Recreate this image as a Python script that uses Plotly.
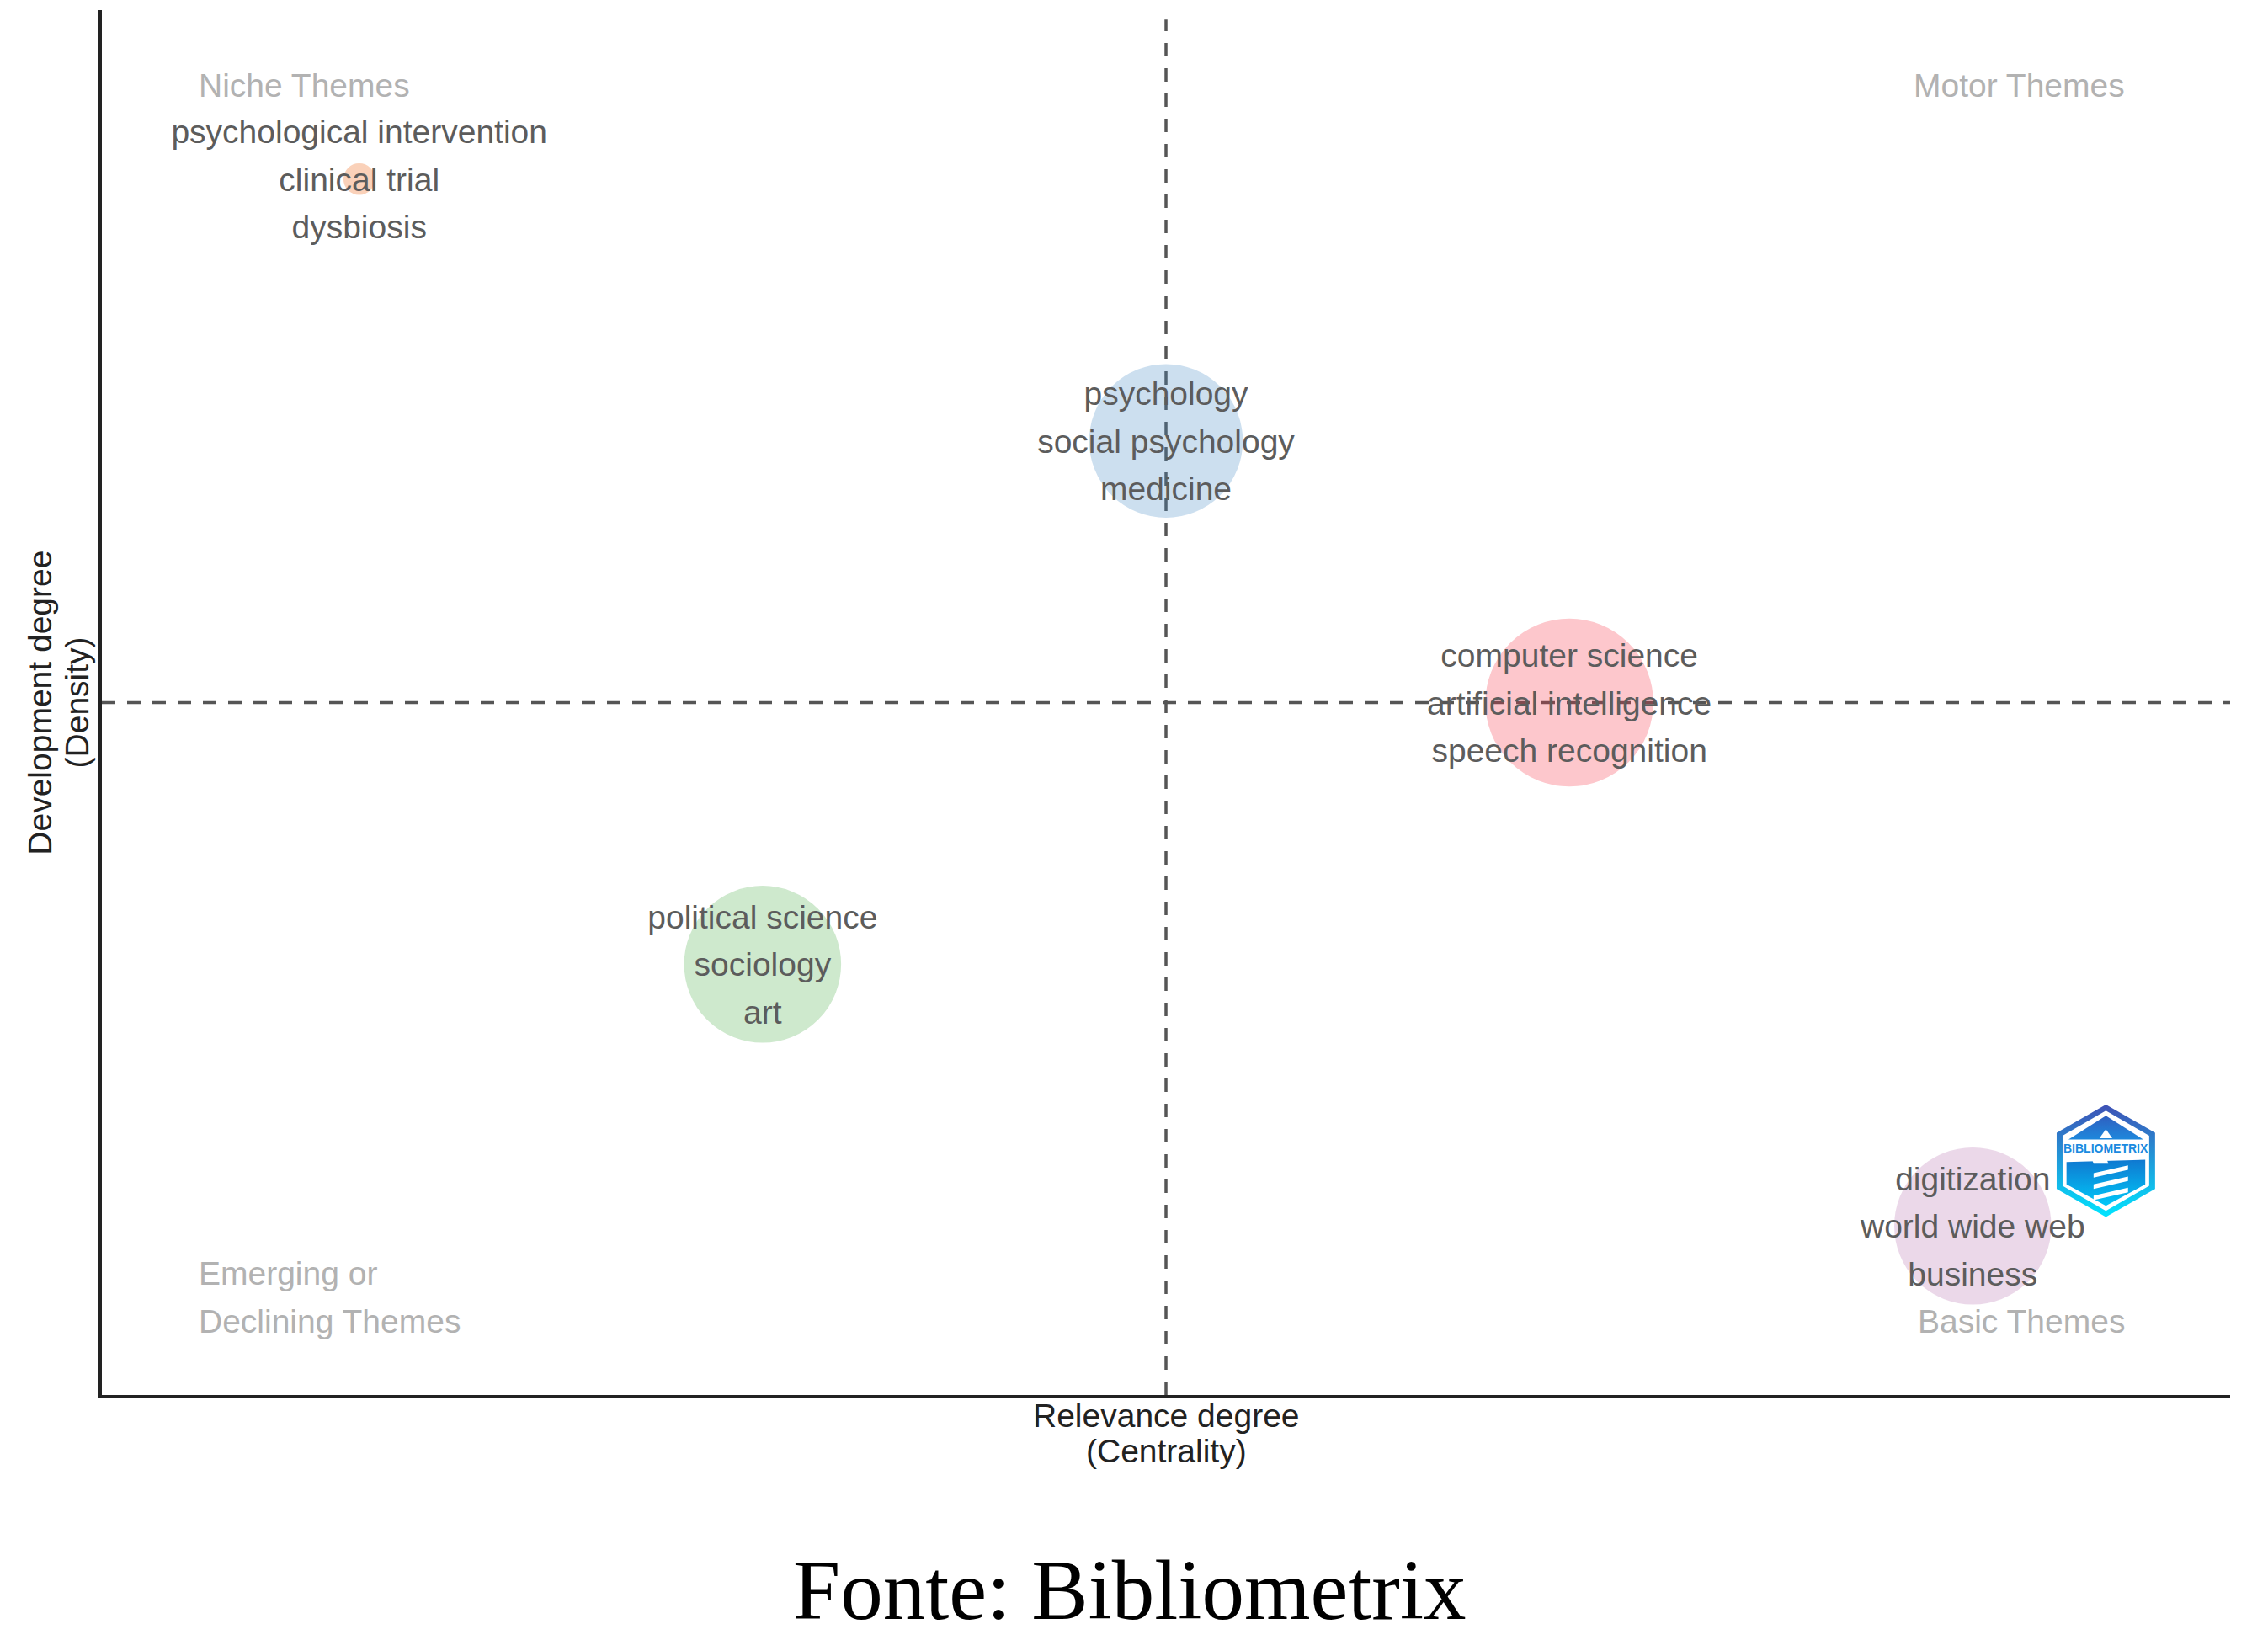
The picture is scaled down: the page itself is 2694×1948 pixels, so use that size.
import plotly.graph_objects as go

# thematic map, rank coordinates (one rank per cluster)
centrality = [1, 2, 3, 4, 5]
density = [5, 2, 4, 3, 1]
bubble_size = [36, 185, 181, 198, 185]
bubble_color = ["#F05A00", "#4DAF4A", "#468CC8", "#F83446", "#B973B2"]
cluster_terms = [
    ["psychological intervention", "clinical trial", "dysbiosis"],
    ["political science", "sociology", "art"],
    ["psychology", "social psychology", "medicine"],
    ["computer science", "artificial intelligence", "speech recognition"],
    ["digitization", "world wide web", "business"],
]
corner_labels = ["Niche Themes", "Motor Themes", "Emerging or", "Declining Themes", "Basic Themes"]
corner_x = [0.598, 5.382, 0.598, 0.598, 5.382]
corner_y = [5.359, 5.359, 0.818, 0.635, 0.635]
corner_anchor = ["left", "right", "left", "left", "right"]

x_range = [0.362, 5.638]
y_range = [0.354, 5.646]
median_rank = 3
line_step = 0.182
label_shift = -0.014

logo_x, logo_y = 5.33, 1.249
logo_w, logo_h = 0.122, 0.215

fig = go.Figure()

# quadrant lines
fig.add_trace(go.Scatter(x=[median_rank, median_rank], y=[y_range[0], 5.61], mode="lines",
                         line=dict(color="#555555", width=3.5, dash="16px,14px")))
fig.add_trace(go.Scatter(x=x_range, y=[median_rank, median_rank], mode="lines",
                         line=dict(color="#555555", width=3.5, dash="16px,14px")))

fig.add_trace(go.Scatter(x=centrality, y=density, mode="markers",
                         marker=dict(size=bubble_size, color=bubble_color, opacity=0.27,
                                     line=dict(width=1.5, color=bubble_color))))

# three terms per cluster, stacked around the bubble centre
for cx, cy, terms in zip(centrality, density, cluster_terms):
    ys = [cy + line_step + label_shift, cy + label_shift, cy - line_step + label_shift]
    fig.add_trace(go.Scatter(x=[cx] * 3, y=ys, mode="text",
                             text=terms, textposition="middle center",
                             textfont=dict(family="Liberation Sans", size=39, color="#5c5c5c")))


def logo_poly(points, fill=None, gradient=None):
    xs = [logo_x + p[0] * logo_w for p in points]
    ys = [logo_y + p[1] * logo_h for p in points]
    tr = go.Scatter(x=xs + xs[:1], y=ys + ys[:1], mode="lines", line=dict(width=0), fill="toself")
    if gradient:
        tr.fillgradient = dict(type="vertical", colorscale=[[0, gradient[0]], [1, gradient[1]]])
    else:
        tr.fillcolor = fill
    fig.add_trace(tr)


# Bibliometrix badge
hexagon = [(0, 1), (1, 0.5), (1, -0.5), (0, -1), (-1, -0.5), (-1, 0.5)]
logo_poly(hexagon, gradient=("#00E5FF", "#3F51B5"))
logo_poly([(p[0] * 0.88, p[1] * 0.89) for p in hexagon], fill="#FFFFFF")
logo_poly([(-0.76, 0.38), (0, 0.8), (0.76, 0.38)], gradient=("#1E88DC", "#2F5FC0"))
logo_poly([(-0.8, -0.02), (0.8, 0.02), (0.8, -0.42), (0, -0.8), (-0.8, -0.42)],
          gradient=("#00C8F8", "#1078D0"))
logo_poly([(-0.13, 0.4), (0, 0.56), (0.13, 0.4)], fill="#FFFFFF")
logo_poly([(-0.3, 0.08), (-0.15, 0.14), (0, 0.08), (0.05, -0.05), (-0.25, -0.05)], fill="#FFFFFF")
for top in [-0.08, -0.28, -0.48]:
    logo_poly([(-0.25, top - 0.14), (0.45, top), (0.45, top - 0.08), (-0.25, top - 0.22)], fill="#FFFFFF")

fig.add_annotation(x=logo_x, y=logo_y + 0.22 * logo_h, text="<b>BIBLIOMETRIX</b>", showarrow=False,
                   font=dict(family="Liberation Sans", size=14, color="#1A8AE0"))

for label, lx, ly, anchor in zip(corner_labels, corner_x, corner_y, corner_anchor):
    fig.add_annotation(x=lx, y=ly, text=label, xanchor=anchor, showarrow=False,
                       font=dict(family="Liberation Sans", size=39, color="#b2b2b2"))

axis_font = dict(family="Liberation Sans", size=39, color="#222222")
fig.add_annotation(xref="paper", yref="paper", x=0.5, y=-0.0146, text="Relevance degree",
                   xanchor="center", yanchor="middle", showarrow=False, font=axis_font)
fig.add_annotation(xref="paper", yref="paper", x=0.5, y=-0.0407, text="(Centrality)",
                   xanchor="center", yanchor="middle", showarrow=False, font=axis_font)
fig.add_annotation(xref="paper", yref="paper", x=-0.0292, y=0.5, text="Development degree",
                   xanchor="center", yanchor="middle", textangle=-90, showarrow=False, font=axis_font)
fig.add_annotation(xref="paper", yref="paper", x=-0.0115, y=0.5, text="(Density)",
                   xanchor="center", yanchor="middle", textangle=-90, showarrow=False, font=axis_font)
fig.add_annotation(xref="paper", yref="paper", x=0.483, y=-0.141, text="Fonte: Bibliometrix",
                   xanchor="center", yanchor="middle", showarrow=False, borderpad=0,
                   font=dict(family="Liberation Serif", size=101, color="#000000"))

fig.update_layout(width=2694, height=1948, showlegend=False,
                  paper_bgcolor="#FFFFFF", plot_bgcolor="#FFFFFF",
                  margin=dict(l=121, r=45, t=12, b=291),
                  xaxis=dict(range=x_range, showgrid=False, zeroline=False, showticklabels=False,
                             ticks="", showline=True, linecolor="#222222", linewidth=4),
                  yaxis=dict(range=y_range, showgrid=False, zeroline=False, showticklabels=False,
                             ticks="", showline=True, linecolor="#222222", linewidth=4))

fig.write_html("out.html", config=dict(displayModeBar=False),
               post_script="document.body.style.margin='0';")
